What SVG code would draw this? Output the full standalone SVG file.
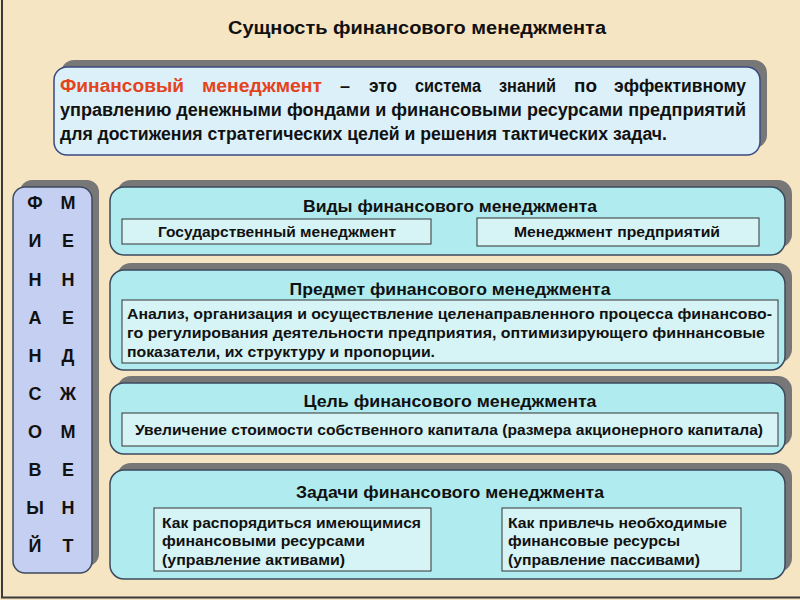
<svg xmlns="http://www.w3.org/2000/svg" width="800" height="600" viewBox="0 0 800 600">
<defs>
<style>
text{font-family:"Liberation Sans",Arial,sans-serif;font-weight:bold;fill:#111}
.shadow{fill:#777}
.panel{fill:#b0ecef;stroke:#3c4a5e;stroke-width:1.5}
.sub{fill:#d6f4f6;stroke:#333;stroke-width:1}
.pt{font-size:16px;text-anchor:middle}
.st{font-size:15.5px}
.col{font-size:18px;text-anchor:middle}
.def{font-size:18px}
.red{fill:#e5431d}
</style>
</defs>
<rect x="0" y="0" width="800" height="600" fill="#f6e5c3"/>
<path d="M2 0 V597.5 H800" fill="none" stroke="#3a3a3a" stroke-width="2"/>
<text id="title" x="417" y="34" font-size="18" text-anchor="middle" textLength="378" lengthAdjust="spacingAndGlyphs">Сущность финансового менеджмента</text>

<g id="definition">
<rect class="shadow" x="61" y="60" width="706" height="88" rx="13"/>
<rect x="54" y="67" width="706" height="88" rx="13" fill="#dbf0f8" stroke="#3a4a80" stroke-width="1.5"/>
<text class="def red" x="60" y="92" textLength="124" lengthAdjust="spacingAndGlyphs">Финансовый</text>
<text class="def red" x="202" y="92" textLength="120" lengthAdjust="spacingAndGlyphs">менеджмент</text>
<text class="def" x="340" y="92">–</text>
<text class="def" x="369" y="92" textLength="28" lengthAdjust="spacingAndGlyphs">это</text>
<text class="def" x="415" y="92" textLength="66" lengthAdjust="spacingAndGlyphs">система</text>
<text class="def" x="499" y="92" textLength="57" lengthAdjust="spacingAndGlyphs">знаний</text>
<text class="def" x="574" y="92" textLength="23" lengthAdjust="spacingAndGlyphs">по</text>
<text class="def" x="614" y="92" textLength="132" lengthAdjust="spacingAndGlyphs">эффективному</text>
<text class="def" x="60" y="116" textLength="686" lengthAdjust="spacingAndGlyphs">управлению денежными фондами и финансовыми ресурсами предприятий</text>
<text class="def" x="60" y="140" textLength="607" lengthAdjust="spacingAndGlyphs">для достижения стратегических целей и решения тактических задач.</text>
</g>

<g id="acrostic">
<rect class="shadow" x="20" y="180" width="79" height="386" rx="12"/>
<rect x="13" y="187" width="79" height="386" rx="12" fill="#c4cff1" stroke="#3c4a5e" stroke-width="1.5"/>
<text class="col" x="35" y="209">Ф</text><text class="col" x="68" y="209">М</text>
<text class="col" x="35" y="247">И</text><text class="col" x="68" y="247">Е</text>
<text class="col" x="35" y="286">Н</text><text class="col" x="68" y="286">Н</text>
<text class="col" x="35" y="324">А</text><text class="col" x="68" y="324">Е</text>
<text class="col" x="35" y="362">Н</text><text class="col" x="68" y="362">Д</text>
<text class="col" x="35" y="400">С</text><text class="col" x="68" y="400">Ж</text>
<text class="col" x="35" y="438">О</text><text class="col" x="68" y="438">М</text>
<text class="col" x="35" y="476">В</text><text class="col" x="68" y="476">Е</text>
<text class="col" x="35" y="514">Ы</text><text class="col" x="68" y="514">Н</text>
<text class="col" x="35" y="552">Й</text><text class="col" x="68" y="552">Т</text>
</g>

<g id="types">
<rect class="shadow" x="117" y="180" width="675" height="68" rx="14"/>
<rect class="panel" x="110" y="187" width="675" height="68" rx="14"/>
<text class="pt" x="450" y="212" textLength="294" lengthAdjust="spacingAndGlyphs">Виды финансового менеджмента</text>
<rect class="sub" x="122" y="219" width="309" height="25"/>
<text class="st" x="158" y="237" textLength="238" lengthAdjust="spacingAndGlyphs">Государственный менеджмент</text>
<rect class="sub" x="477" y="218" width="282" height="28"/>
<text class="st" x="514" y="237" textLength="206" lengthAdjust="spacingAndGlyphs">Менеджмент предприятий</text>
</g>

<g id="subject">
<rect class="shadow" x="117" y="263" width="675" height="100" rx="14"/>
<rect class="panel" x="110" y="270" width="675" height="100" rx="14"/>
<text class="pt" x="450" y="295" textLength="321" lengthAdjust="spacingAndGlyphs">Предмет финансового менеджмента</text>
<rect class="sub" x="122" y="300" width="656" height="63"/>
<text class="st" x="127" y="319" textLength="645" lengthAdjust="spacingAndGlyphs">Анализ, организация и осуществление целенаправленного процесса финансово-</text>
<text class="st" x="127" y="338" textLength="638" lengthAdjust="spacingAndGlyphs">го регулирования деятельности предприятия, оптимизирующего финнансовые</text>
<text class="st" x="127" y="357" textLength="308" lengthAdjust="spacingAndGlyphs">показатели, их структуру и пропорции.</text>
</g>

<g id="goal">
<rect class="shadow" x="117" y="376" width="675" height="71" rx="14"/>
<rect class="panel" x="110" y="383" width="675" height="71" rx="14"/>
<text class="pt" x="450" y="407" textLength="293" lengthAdjust="spacingAndGlyphs">Цель финансового менеджмента</text>
<rect class="sub" x="122" y="413" width="656" height="33"/>
<text class="st" x="135" y="435" textLength="628" lengthAdjust="spacingAndGlyphs">Увеличение стоимости собственного капитала (размера акционерного капитала)</text>
</g>

<g id="tasks">
<rect class="shadow" x="117" y="463" width="675" height="109" rx="14"/>
<rect class="panel" x="110" y="470" width="675" height="109" rx="14"/>
<text class="pt" x="450" y="498" textLength="308" lengthAdjust="spacingAndGlyphs">Задачи финансового менеджмента</text>
<rect class="sub" x="154" y="508" width="277" height="63"/>
<text class="st" x="162" y="528" textLength="259" lengthAdjust="spacingAndGlyphs">Как распорядиться имеющимися</text>
<text class="st" x="162" y="546" textLength="203" lengthAdjust="spacingAndGlyphs">финансовыми ресурсами</text>
<text class="st" x="162" y="565" textLength="183" lengthAdjust="spacingAndGlyphs">(управление активами)</text>
<rect class="sub" x="502" y="508" width="239" height="63"/>
<text class="st" x="508" y="528" textLength="219" lengthAdjust="spacingAndGlyphs">Как привлечь необходимые</text>
<text class="st" x="508" y="546" textLength="172" lengthAdjust="spacingAndGlyphs">финансовые ресурсы</text>
<text class="st" x="508" y="565" textLength="192" lengthAdjust="spacingAndGlyphs">(управление пассивами)</text>
</g>
</svg>
